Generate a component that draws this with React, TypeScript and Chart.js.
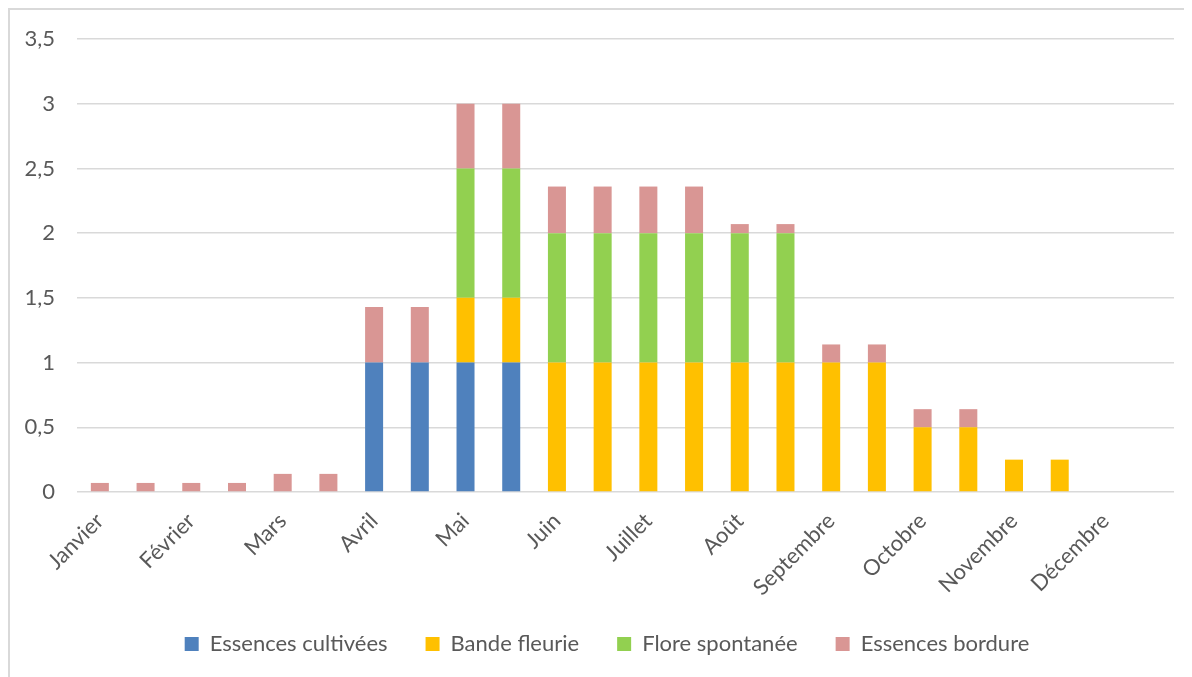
import React, { useEffect, useRef } from "react";
import { Chart, registerables } from "chart.js";

Chart.register(...registerables);

const months = ["Janvier", "Février", "Mars", "Avril", "Mai", "Juin", "Juillet", "Août", "Septembre", "Octobre", "Novembre", "Décembre"];
// two bars per month
const categories = months.flatMap((m) => [m, m + " (2)"]);

const essencesCultivees = [0, 0, 0, 0, 0, 0, 1, 1, 1, 1, 0, 0, 0, 0, 0, 0, 0, 0, 0, 0, 0, 0, 0, 0];
const bandeFleurie = [0, 0, 0, 0, 0, 0, 0, 0, 0.5, 0.5, 1, 1, 1, 1, 1, 1, 1, 1, 0.5, 0.5, 0.25, 0.25, 0, 0];
const floreSpontanee = [0, 0, 0, 0, 0, 0, 0, 0, 1, 1, 1, 1, 1, 1, 1, 1, 0, 0, 0, 0, 0, 0, 0, 0];
const essencesBordure = [0.07, 0.07, 0.07, 0.07, 0.14, 0.14, 0.43, 0.43, 0.5, 0.5, 0.36, 0.36, 0.36, 0.36, 0.07, 0.07, 0.14, 0.14, 0.14, 0.14, 0, 0, 0, 0];

const FONT = "Lato";
const TEXT = "#595959";

const legendShift = {
  id: "legendShift",
  afterLayout(chart: any) {
    const lg = chart.legend;
    if (lg) {
      lg.left += 15;
      lg.right += 15;
    }
  },
};

export default function App() {
  const ref = useRef<HTMLCanvasElement | null>(null);
  useEffect(() => {
    if (!ref.current) return;
    const chart = new Chart(ref.current, {
      type: "bar",
      data: {
        labels: categories,
        datasets: [
          { label: "Essences cultivées", data: essencesCultivees, backgroundColor: "#4f81bd" },
          { label: "Bande fleurie", data: bandeFleurie, backgroundColor: "#ffc000" },
          { label: "Flore spontanée", data: floreSpontanee, backgroundColor: "#92d050" },
          { label: "Essences bordure", data: essencesBordure, backgroundColor: "#d99694" },
        ],
      },
      plugins: [legendShift],
      options: {
        responsive: false,
        animation: false,
        devicePixelRatio: 1,
        layout: { padding: { left: 0, right: 18, top: 29, bottom: 12 } },
        datasets: { bar: { categoryPercentage: 1, barPercentage: 0.394 } },
        plugins: {
          legend: {
            position: "bottom",
            labels: {
              boxWidth: 14,
              boxHeight: 14,
              padding: 38,
              color: TEXT,
              font: { family: FONT, size: 22 },
            },
          },
          tooltip: { enabled: false },
        },
        scales: {
          x: {
            stacked: true,
            grid: { display: false },
            border: { display: false },
            ticks: {
              autoSkip: false,
              minRotation: 45,
              maxRotation: 45,
              padding: 8,
              color: TEXT,
              font: { family: FONT, size: 22 },
              callback: (_v: any, i: number) => (i % 2 === 0 ? months[i / 2] : ""),
            },
            afterFit: (s: any) => {
              s.height = 103;
            },
          },
          y: {
            stacked: true,
            min: 0,
            max: 3.5,
            border: { display: false },
            grid: {
              color: "#d9d9d9",
              lineWidth: 1.5,
              drawTicks: true,
              tickLength: 20,
              tickColor: "rgba(0,0,0,0)",
            },
            ticks: {
              stepSize: 0.5,
              padding: 2,
              color: TEXT,
              font: { family: FONT, size: 22 },
              callback: (v: any) => String(v).replace(".", ","),
            },
            afterFit: (s: any) => {
              s.width = 67;
            },
          },
        },
      },
    });
    return () => chart.destroy();
  }, []);

  return (
    <div
      style={{
        position: "relative",
        width: 1184,
        height: 669,
        boxSizing: "border-box",
        borderTop: "2px solid #d9d9d9",
        borderLeft: "2px solid #d9d9d9",
      }}
    >
      <canvas ref={ref} width={1182} height={667} style={{ display: "block" }} />
    </div>
  );
}
